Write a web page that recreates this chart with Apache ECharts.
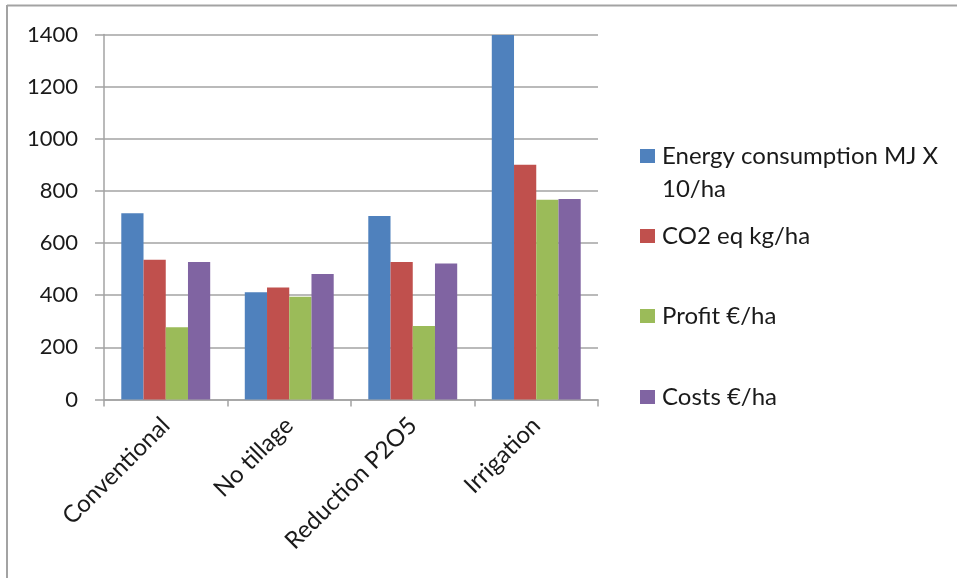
<!DOCTYPE html>
<html>
<head>
<meta charset="utf-8">
<script src="https://cdn.jsdelivr.net/npm/echarts@6/dist/echarts.min.js"></script>
<style>
  html, body { margin: 0; padding: 0; background: #fff; }
  #chart { width: 957px; height: 578px; }
</style>
</head>
<body>
<div id="chart"></div>
<script>
const categories = ['Conventional', 'No tillage', 'Reduction P2O5', 'Irrigation']
const seriesNames = ['Energy consumption MJ X 10/ha', 'CO2 eq kg/ha', 'Profit €/ha', 'Costs €/ha']
const energy = [714, 411, 704, 1398]
const co2 = [536, 430, 527, 900]
const profit = [277, 394, 282, 766]
const costs = [527, 481, 522, 769]
const colors = ['#4f81bd', '#c0504d', '#9bbb59', '#8064a2']
const yTicks = [0, 200, 400, 600, 800, 1000, 1200, 1400]

const font = 'Lato, "Open Sans", sans-serif'
const gray = '#a3a3a3'
const txt = '#1a1a1a'
const legendTops = [144, 224, 304, 385]

const chart = echarts.init(document.getElementById('chart'))

const option = {
  animation: false,
  color: colors,
  textStyle: { fontFamily: font },
  grid: { left: 104, right: 359, top: 34.5, bottom: 178.5 },
  legend: seriesNames.map((name, i) => ({
    data: [name],
    left: 640,
    top: legendTops[i],
    padding: 0,
    itemWidth: 15,
    itemHeight: 14,
    itemGap: 0,
    icon: 'rect',
    selectedMode: false,
    formatter: n => n === seriesNames[0] ? 'Energy consumption MJ X' : n,
    textStyle: { fontSize: 24, color: txt, fontFamily: font, padding: [0, 0, 0, 2] }
  })),
  graphic: [
    { type: 'line', shape: { x1: 7, y1: 5.5, x2: 957, y2: 5.5 }, style: { stroke: gray, lineWidth: 2 } },
    { type: 'line', shape: { x1: 7, y1: 5, x2: 7, y2: 578 }, style: { stroke: gray, lineWidth: 2 } },
    { type: 'text', left: 662, top: 177, style: { text: '10/ha', fontSize: 24, fill: txt, fontFamily: font } }
  ],
  xAxis: {
    type: 'category',
    data: categories,
    axisLine: { lineStyle: { color: gray, width: 1.5 } },
    axisTick: { show: true, length: 7, interval: 0, lineStyle: { color: gray, width: 1.5 } },
    axisLabel: { interval: 0, rotate: 45, margin: 22, fontSize: 24, color: txt }
  },
  yAxis: {
    type: 'value',
    min: yTicks[0],
    max: yTicks[yTicks.length - 1],
    interval: 200,
    axisLine: { show: true, lineStyle: { color: gray, width: 1.5 } },
    axisTick: { show: true, length: 9, lineStyle: { color: gray, width: 1.5 } },
    axisLabel: { margin: 26, fontSize: 22, color: txt, formatter: v => String(v) },
    splitLine: { lineStyle: { color: gray, width: 1.5 } }
  },
  series: [energy, co2, profit, costs].map((d, i) => ({
    name: seriesNames[i],
    type: 'bar',
    data: d,
    barGap: '0%',
    barCategoryGap: '28%'
  }))
}

chart.setOption(option)
</script>
</body>
</html>
